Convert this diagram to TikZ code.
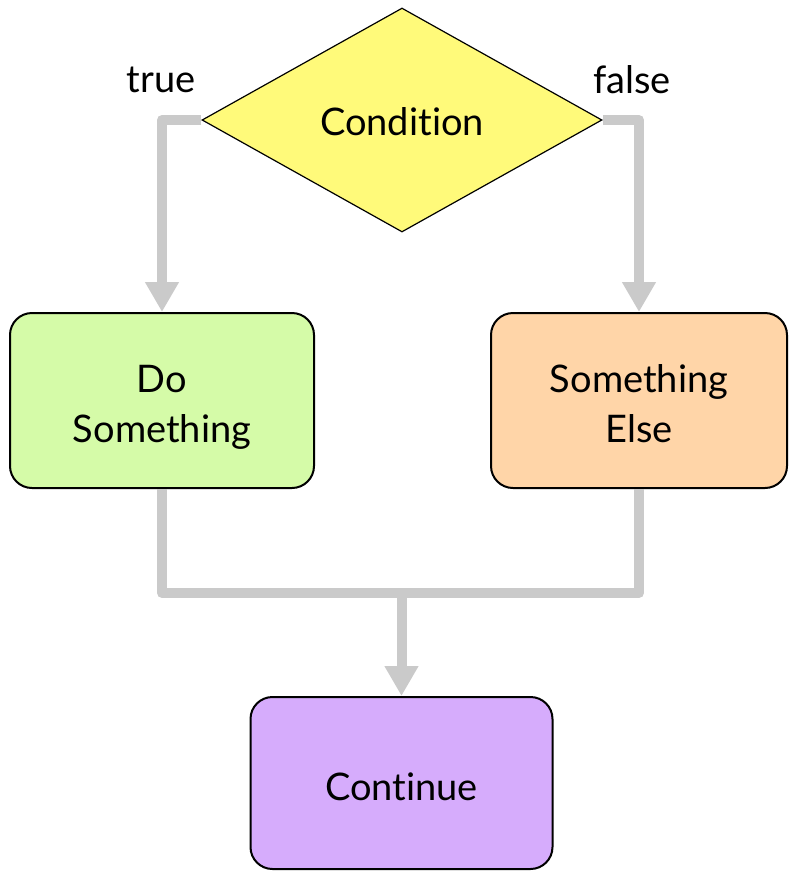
\documentclass[tikz,border=0pt]{standalone}
\usepackage{fontspec}
\setmainfont{Lato}[Ligatures=NoCommon]
\usetikzlibrary{shapes.geometric,arrows.meta}
\definecolor{condfill}{RGB}{255,250,122}
\definecolor{dofill}{RGB}{213,251,168}
\definecolor{elsefill}{RGB}{255,213,168}
\definecolor{contfill}{RGB}{214,172,252}
\definecolor{conncol}{RGB}{202,202,202}
\newcommand{\mylower}[2]{\raisebox{-#1}[\height][\depth]{\begin{tabular}{@{}c@{}}#2\end{tabular}}}
\tikzset{
  txt/.style={font=\fontsize{38}{50}\selectfont},
  boxnode/.style={draw=black, line width=2pt, rounded corners=22pt, inner sep=0pt, align=center, txt},
  conn/.style={draw=conncol, line width=10pt, line join=round},
  arr/.style={conn, -{Triangle[width=32pt,length=30pt]}},
}
\begin{document}
\begin{tikzpicture}[x=1pt,y=-1pt]
\useasboundingbox (0,0) rectangle (788,871);
\node[diamond, draw=black, line width=1.2pt, fill=condfill, minimum width=400pt, minimum height=224pt, inner sep=0pt, txt] (cond) at (402,120) {\mylower{5pt}{Condition}};
\node[boxnode, fill=dofill, minimum width=304pt, minimum height=175pt] (do) at (162,400.5) {\mylower{7pt}{Do\\Something}};
\node[boxnode, fill=elsefill, minimum width=296pt, minimum height=175pt] (else) at (639,400.5) {\mylower{7pt}{Something\\Else}};
\node[boxnode, fill=contfill, minimum width=302pt, minimum height=172pt] (cont) at (401.5,783) {\mylower{7pt}{Continue}};
\node[txt] (tlab) at (161,80) {true};
\node[txt] (flab) at (632,80) {false};
\coordinate (m) at (401.5,593);
\draw[arr] (cond.west) -| (do.north);
\draw[arr] (cond.east) -| (else.north);
\draw[conn] (do.south) -- (do.south |- m) -- (else.south |- m) -- (else.south);
\draw[arr] (m) -- (cont.north);
\end{tikzpicture}
\end{document}
